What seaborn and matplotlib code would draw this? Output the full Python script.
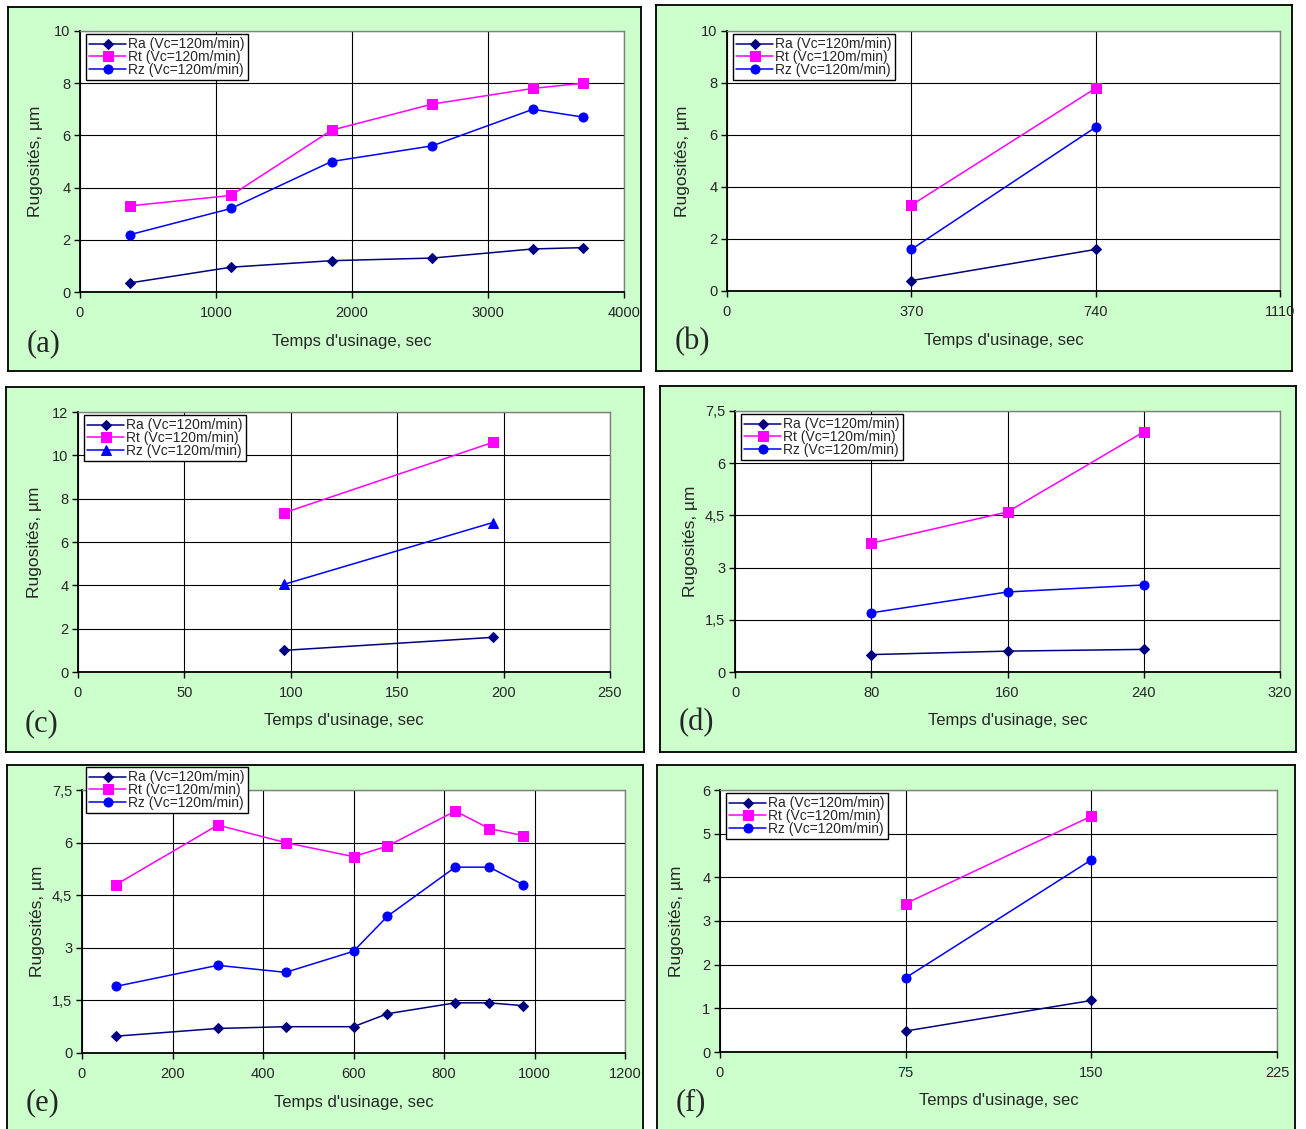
# -*- coding: utf-8 -*-
import numpy as np
import pandas as pd
import seaborn as sns
from matplotlib import pyplot as plt
from matplotlib.ticker import FuncFormatter

# ---- data ----
a_time = [370, 1110, 1850, 2590, 3330, 3700]
a_ra = [0.35, 0.95, 1.2, 1.3, 1.65, 1.7]
a_rt = [3.3, 3.7, 6.2, 7.2, 7.8, 8.0]
a_rz = [2.2, 3.2, 5.0, 5.6, 7.0, 6.7]

b_time = [370, 740]
b_ra = [0.4, 1.6]
b_rt = [3.3, 7.8]
b_rz = [1.6, 6.3]

c_time = [97, 195]
c_ra = [1.0, 1.6]
c_rt = [7.35, 10.6]
c_rz = [4.05, 6.9]

d_time = [80, 160, 240]
d_ra = [0.5, 0.6, 0.65]
d_rt = [3.7, 4.6, 6.9]
d_rz = [1.7, 2.3, 2.5]

e_time = [75, 300, 450, 600, 675, 825, 900, 975]
e_ra = [0.48, 0.7, 0.75, 0.75, 1.12, 1.43, 1.43, 1.35]
e_rt = [4.8, 6.5, 6.0, 5.6, 5.9, 6.9, 6.4, 6.2]
e_rz = [1.9, 2.5, 2.3, 2.9, 3.9, 5.3, 5.3, 4.8]

f_time = [75, 150]
f_ra = [0.48, 1.18]
f_rt = [3.4, 5.4]
f_rz = [1.7, 4.4]

labels = ['Ra (Vc=120m/min)', 'Rt (Vc=120m/min)', 'Rz (Vc=120m/min)']

a_xticks = [0, 1000, 2000, 3000, 4000]
a_yticks = [0, 2, 4, 6, 8, 10]
b_xticks = [0, 370, 740, 1110]
b_yticks = [0, 2, 4, 6, 8, 10]
c_xticks = [0, 50, 100, 150, 200, 250]
c_yticks = [0, 2, 4, 6, 8, 10, 12]
d_xticks = [0, 80, 160, 240, 320]
d_yticks = [0, 1.5, 3, 4.5, 6, 7.5]
e_xticks = [0, 200, 400, 600, 800, 1000, 1200]
e_yticks = [0, 1.5, 3, 4.5, 6, 7.5]
f_xticks = [0, 75, 150, 225]
f_yticks = [0, 1, 2, 3, 4, 5, 6]

W, H = 1306, 1129
sns.set_style('white')
plt.rcParams['font.family'] = ['Liberation Sans', 'DejaVu Sans']

fig = plt.figure(figsize=(W / 100, H / 100), dpi=100)
fig.patch.set_facecolor('white')

GREEN = '#CCFFCC'

# layout: frame box (x0, y0, x1, y1) and plot area (x0, y0, x1, y1) in pixels
panels = [
    ('(a)', a_time, a_ra, a_rt, a_rz, a_xticks, a_yticks, 'o',
     (8, 7, 641, 371), (80, 31, 624, 292), None),
    ('(b)', b_time, b_ra, b_rt, b_rz, b_xticks, b_yticks, 'o',
     (656, 5, 1292, 371), (727, 31, 1280, 291), None),
    ('(c)', c_time, c_ra, c_rt, c_rz, c_xticks, c_yticks, '^',
     (6, 387, 644, 752), (78, 412, 610, 672), None),
    ('(d)', d_time, d_ra, d_rt, d_rz, d_xticks, d_yticks, 'o',
     (660, 386, 1296, 752), (735, 411, 1280, 672), None),
    ('(e)', e_time, e_ra, e_rt, e_rz, e_xticks, e_yticks, 'o',
     (7, 765, 643, 1140), (82, 790, 625, 1053), (86, 767)),
    ('(f)', f_time, f_ra, f_rt, f_rz, f_xticks, f_yticks, 'o',
     (657, 765, 1295, 1140), (720, 790, 1277, 1052), None),
]

comma = FuncFormatter(lambda v, p: '{:g}'.format(v).replace('.', ','))

for (tag, t, ra, rt, rz, xt, yt, rz_marker, frame, area, leg_pos) in panels:
    fx0, fy0, fx1, fy1 = frame
    # green panel background drawn on its own axes, below the chart
    bg = fig.add_axes([fx0 / W, 1 - fy1 / H, (fx1 - fx0) / W, (fy1 - fy0) / H], zorder=-5)
    bg.set_facecolor(GREEN)
    bg.set_xticks([])
    bg.set_yticks([])
    for s in bg.spines.values():
        s.set_color('black')
        s.set_linewidth(1.3)

    x0, y0, x1, y1 = area
    ax = fig.add_axes([x0 / W, 1 - y1 / H, (x1 - x0) / W, (y1 - y0) / H], zorder=1)
    ax.set_facecolor('white')

    sns.lineplot(x=t, y=ra, ax=ax, color='#000080', marker='D', markersize=5,
                 markeredgecolor='#000080', linewidth=1.1, label=labels[0])
    sns.lineplot(x=t, y=rt, ax=ax, color='#FF00FF', marker='s', markersize=6.5,
                 markeredgecolor='#FF00FF', linewidth=1.1, label=labels[1])
    sns.lineplot(x=t, y=rz, ax=ax, color='#0000FF', marker=rz_marker, markersize=6.5,
                 markeredgecolor='#0000FF', linewidth=1.1, label=labels[2])

    ax.set_xlim(xt[0], xt[-1])
    ax.set_ylim(yt[0], yt[-1])
    ax.set_xticks(xt)
    ax.set_yticks(yt)
    ax.xaxis.set_major_formatter(comma)
    ax.yaxis.set_major_formatter(comma)
    ax.grid(True, color='black', linewidth=0.8)
    ax.set_axisbelow(True)
    for side in ['top', 'right']:
        ax.spines[side].set_color('#808080')
        ax.spines[side].set_linewidth(1.0)
    for side in ['left', 'bottom']:
        ax.spines[side].set_color('black')
        ax.spines[side].set_linewidth(1.3)
    ax.tick_params(axis='both', direction='out', length=4, width=1,
                   color='black', labelsize=10.5, left=True, bottom=True)
    ax.tick_params(axis='x', pad=6)
    ax.tick_params(axis='y', pad=3)

    wpx, hpx = x1 - x0, y1 - y0
    ax.set_xlabel("Temps d'usinage, sec", fontsize=12, va='center')
    ax.xaxis.set_label_coords(0.5, -49 / hpx)
    ax.set_ylabel('Rugosités, µm', fontsize=12.5, va='center')
    ax.yaxis.set_label_coords(-44 / wpx, 0.5)

    if leg_pos is None:
        lx, ly = x0 + 6, y0 + 3
    else:
        lx, ly = leg_pos
    ax.legend(loc='upper left', bbox_to_anchor=((lx - x0) / wpx, (y1 - ly) / hpx),
              fontsize=10, frameon=True, fancybox=False, edgecolor='black',
              framealpha=1, borderpad=0.25, labelspacing=-0.1, handlelength=2.6,
              handletextpad=0.2, borderaxespad=0)

    ty = fy0 + 337 if fy1 < 1000 else 1103
    fig.text((fx0 + 19) / W, 1 - ty / H, tag,
             family=['Liberation Serif', 'DejaVu Serif'], fontsize=22,
             ha='left', va='center')

fig.savefig('out.png', dpi=100)
